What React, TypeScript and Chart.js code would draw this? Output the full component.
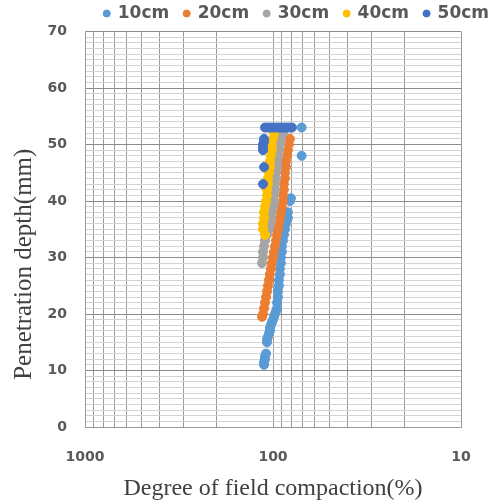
import React, { useEffect, useRef } from 'react';
import { Chart, registerables } from 'chart.js';

Chart.register(...registerables);

const seriesLabels = ['10cm', '20cm', '30cm', '40cm', '50cm'];
const seriesColors = ['#5B9BD5', '#ED7D31', '#A5A5A5', '#FFC000', '#4472C4'];

const depth10 = [11, 11.5, 12, 12.5, 13, 15, 15.5, 16, 16.5, 17, 17.5, 18, 18.5, 19, 19.5, 20, 20.5, 21, 22, 23, 24, 25, 26, 27, 28, 29, 30, 31, 32, 33, 34, 35, 36, 37, 38, 40, 40.5, 48, 53];
const compaction10 = [111.6, 111.6, 110.3, 110.3, 108.9, 107.6, 107.6, 106.3, 105.1, 103.9, 103.9, 102.6, 101.4, 100, 98.8, 97.6, 96.4, 95.2, 95.2, 94.1, 94.1, 93.0, 93.0, 91.9, 91.9, 90.8, 90.8, 89.7, 89.7, 88.5, 87.5, 86.4, 85.3, 83.3, 83.3, 81.3, 80.3, 70.4, 70.4];

const depth20 = [19.5, 20, 21, 22, 23, 24, 25, 26, 27, 28, 29, 30, 31, 32, 33, 34, 35, 36, 37, 38, 39, 40, 41, 42, 43, 44, 45, 46, 47, 48, 49, 50, 51];
const compaction20 = [114.4, 113.0, 111.6, 110.3, 108.9, 107.6, 106.3, 105.1, 103.9, 102.6, 101.4, 100, 98.8, 97.6, 96.4, 95.2, 94.1, 93.0, 91.9, 90.8, 89.7, 88.5, 88.5, 87.5, 87.5, 86.4, 86.4, 85.3, 85.3, 84.3, 83.3, 82.3, 81.3];

const depth30 = [29, 30, 31, 32, 33, 34, 35, 36, 37, 38, 39, 40, 41, 42, 43, 44, 45, 46, 47, 48, 49, 50, 51, 52];
const compaction30 = [114.4, 113.0, 113.0, 111.6, 110.3, 107.6, 105.1, 103.9, 102.6, 101.4, 100, 98.8, 98.8, 97.6, 97.6, 96.4, 96.4, 95.2, 95.2, 94.1, 93.0, 91.9, 90.8, 88.5];

const depth40 = [34, 35, 36, 37, 38, 39, 40, 41, 42, 43, 44, 45, 46, 47, 48, 49, 50, 51, 52];
const compaction40 = [110.3, 113.0, 113.0, 111.6, 111.6, 110.3, 108.9, 107.6, 107.6, 106.3, 106.3, 105.1, 103.9, 103.9, 102.6, 101.4, 101.4, 100, 98.8];

const depth50 = [43, 46, 49, 49.5, 50, 50.5, 51, 53, 53, 53, 53, 53, 53, 53, 53, 53, 53];
const compaction50 = [113.0, 111.6, 113.0, 113.0, 113.0, 111.6, 111.6, 110.3, 106.3, 102.6, 98.8, 95.2, 91.9, 88.5, 85.3, 82.3, 79.3];

const seriesDepths = [depth10, depth20, depth30, depth40, depth50];
const seriesCompactions = [compaction10, compaction20, compaction30, compaction40, compaction50];

const xTickValues = [10, 20, 30, 40, 50, 60, 70, 80, 90, 100, 200, 300, 400, 500, 600, 700, 800, 900, 1000];
const xLabelValues = [10, 100, 1000];

const xTitle = 'Degree of field compaction(%)';
const yTitle = 'Penetration depth(mm)';

const yTitlePlugin = {
  id: 'yTitleText',
  afterDraw(chart: any) {
    const { ctx, chartArea } = chart;
    ctx.save();
    ctx.translate(24, (chartArea.top + chartArea.bottom) / 2 + 35);
    ctx.rotate(-Math.PI / 2);
    ctx.font = '25px "Liberation Serif"';
    ctx.fillStyle = '#404040';
    ctx.textAlign = 'center';
    ctx.textBaseline = 'middle';
    ctx.fillText(yTitle, 0, 0);
    ctx.restore();
  },
};

export default function App() {
  const canvasRef = useRef<HTMLCanvasElement | null>(null);

  useEffect(() => {
    if (!canvasRef.current) return;
    const datasets = seriesLabels.map((label, i) => ({
      label,
      data: seriesDepths[i].map((d, j) => ({ x: seriesCompactions[i][j], y: d })),
      backgroundColor: seriesColors[i],
      borderColor: seriesColors[i],
      borderWidth: 1,
      pointRadius: 4.5,
      pointStyle: 'circle',
      order: seriesLabels.length - 1 - i,
    }));

    const chart = new Chart(canvasRef.current, {
      type: 'scatter',
      data: { datasets },
      options: {
        responsive: false,
        animation: false,
        layout: { padding: 0 },
        plugins: {
          tooltip: { enabled: false },
          legend: {
            position: 'top',
            align: 'end',
            maxHeight: 41.5,
            labels: {
              usePointStyle: true,
              pointStyle: 'circle',
              boxWidth: 5,
              boxHeight: 5,
              padding: 15,
              color: '#595959',
              font: { family: 'DejaVu Sans', size: 17, weight: 'bold' },
              sort: (a: any, b: any) => a.datasetIndex - b.datasetIndex,
            },
          },
        },
        scales: {
          x: {
            type: 'logarithmic',
            reverse: true,
            min: 10,
            max: 1000,
            afterBuildTicks: (s: any) => {
              s.ticks = xTickValues.map((v) => ({ value: v }));
            },
            afterFit: (s: any) => {
              s.paddingRight = 43;
              s.height = 79;
            },
            ticks: {
              autoSkip: false,
              maxRotation: 0,
              padding: 22,
              color: '#595959',
              font: { family: 'DejaVu Sans', size: 14, weight: 'bold' },
              callback: (v: any) => (xLabelValues.includes(Number(v)) ? String(v) : ''),
            },
            grid: { color: '#9a9a9a', drawTicks: false, lineWidth: 1 },
            border: { color: '#9a9a9a' },
            title: {
              display: true,
              text: xTitle,
              color: '#404040',
              font: { family: 'Liberation Serif', size: 24, weight: 'normal' },
              padding: { top: 4, bottom: 3 },
            },
          },
          y: {
            type: 'linear',
            min: 0,
            max: 70,
            afterFit: (s: any) => {
              s.width = 85;
            },
            ticks: {
              stepSize: 1,
              maxTicksLimit: 100,
              autoSkip: false,
              padding: 18,
              color: '#595959',
              font: { family: 'DejaVu Sans', size: 14, weight: 'bold' },
              callback: (v: any) => (Number(v) % 10 === 0 ? String(v) : ''),
            },
            grid: {
              drawTicks: false,
              lineWidth: 1,
              color: (ctx: any) => (ctx.tick && ctx.tick.value % 10 === 0 ? '#8c8c8c' : '#d4d4d4'),
            },
            border: { color: '#9a9a9a' },
            title: { display: false },
          },
        },
      },
      plugins: [yTitlePlugin],
    } as any);

    return () => chart.destroy();
  }, []);

  return (
    <div style={{ position: 'absolute', left: 0, top: 0, width: 494, height: 504, overflow: 'hidden', background: '#fff' }}>
      <canvas ref={canvasRef} width={504} height={516} style={{ position: 'absolute', left: 0, top: -10 }} />
    </div>
  );
}
